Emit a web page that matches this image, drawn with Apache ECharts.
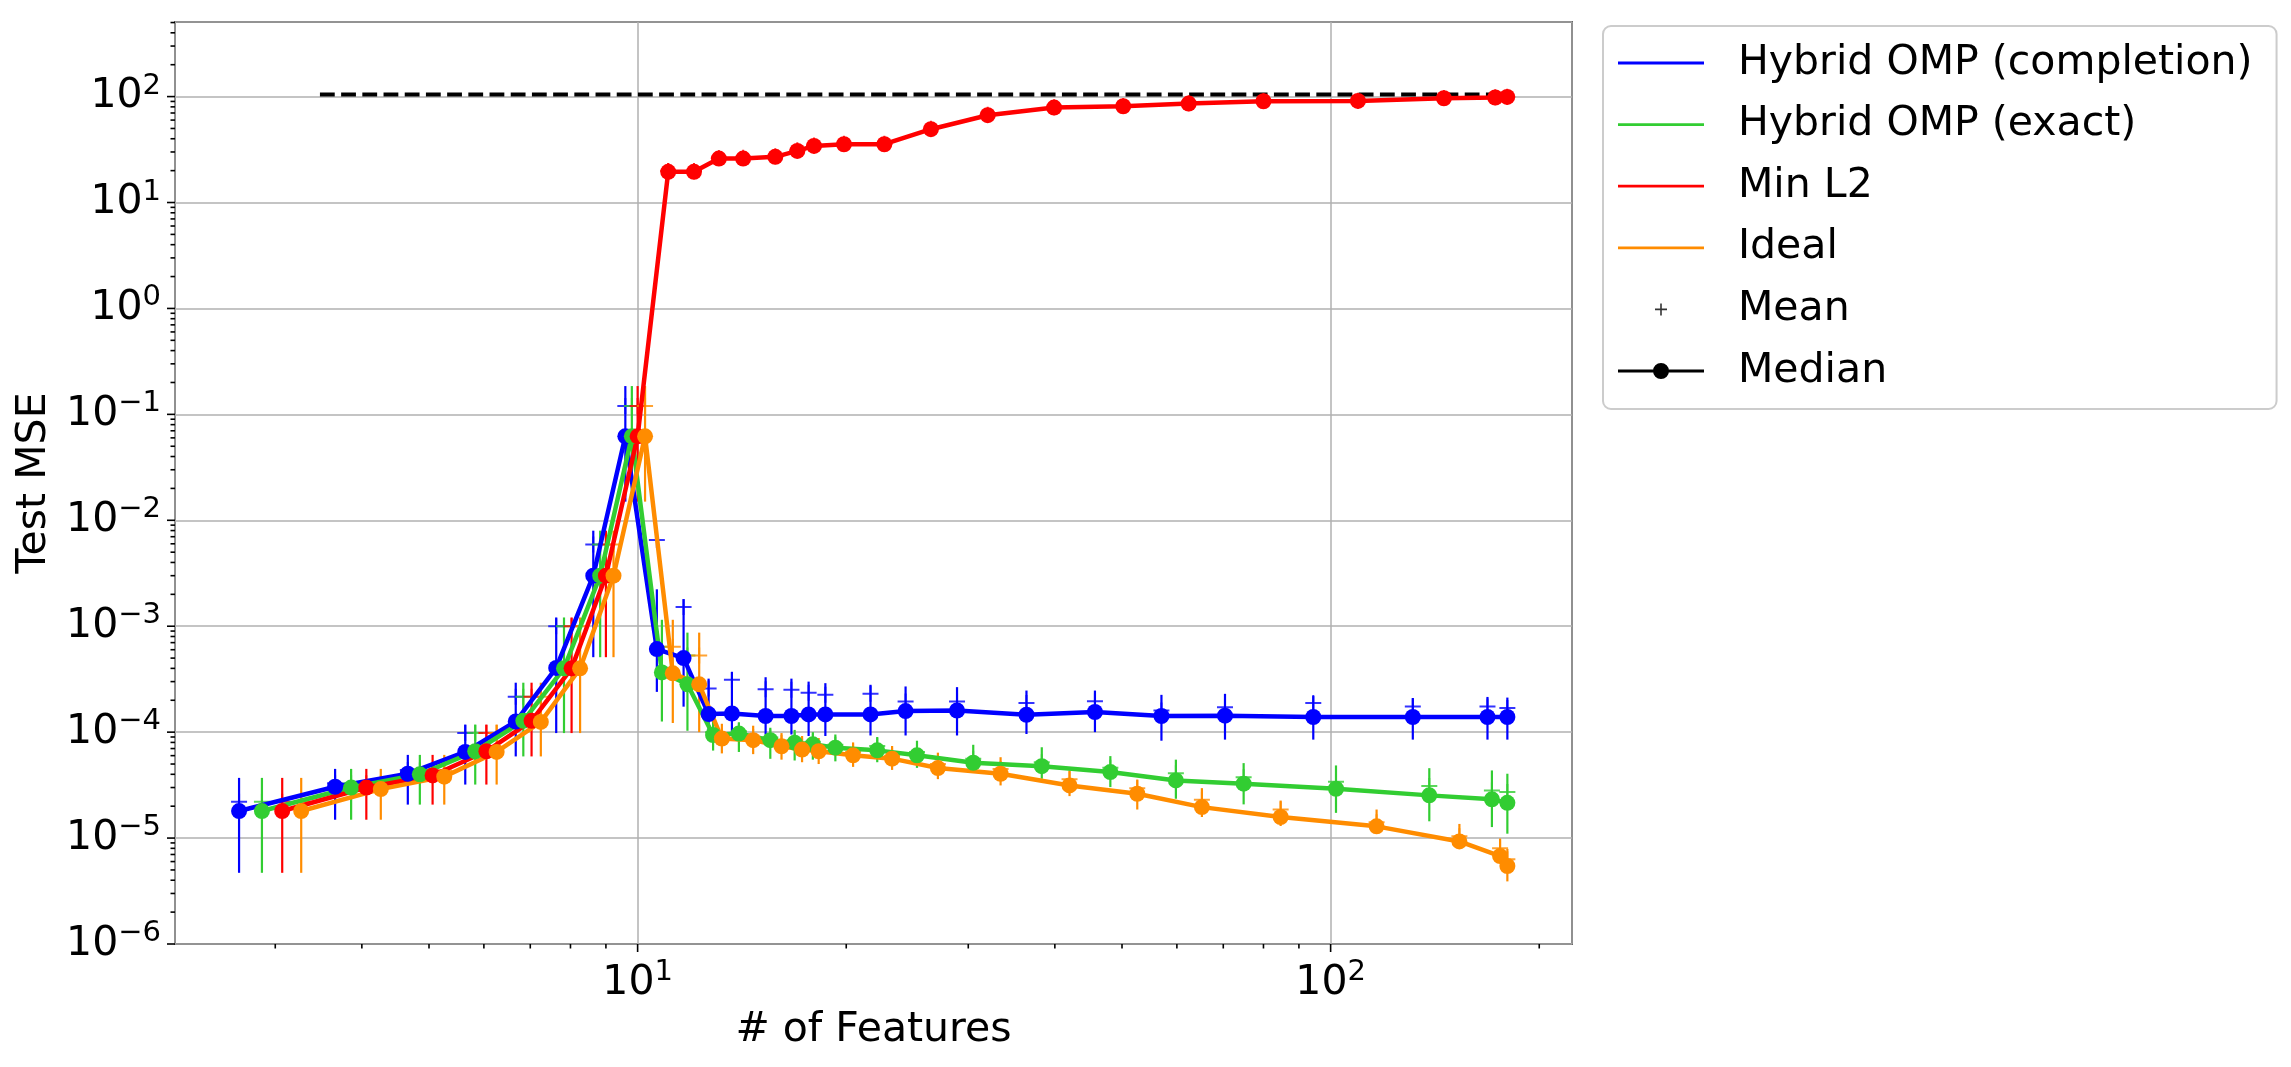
<!DOCTYPE html>
<html>
<head>
<meta charset="utf-8">
<script src="https://cdn.jsdelivr.net/npm/echarts@6/dist/echarts.min.js"></script>
<style>
html,body{margin:0;padding:0;background:#fff;}
#main{width:2291px;height:1067px;}
</style>
</head>
<body>
<div id="main"></div>
<script>
// Hybrid OMP (completion)
var blueX    = [2.66, 3.66, 4.66, 5.64, 6.67, 7.63, 8.63, 9.6, 10.66, 11.65, 12.66, 13.68, 15.3, 16.67, 17.65, 18.66, 21.68, 24.36, 28.9, 36.4, 45.7, 57.0, 70.4, 94.4, 131.4, 168.4, 179.9];
var blueMed  = [1.8e-5, 3.05e-5, 4.05e-5, 6.5e-5, 1.26e-4, 4.04e-4, 3.0e-3, 0.062, 6.08e-4, 5.0e-4, 1.48e-4, 1.5e-4, 1.42e-4, 1.42e-4, 1.47e-4, 1.47e-4, 1.47e-4, 1.58e-4, 1.6e-4, 1.46e-4, 1.55e-4, 1.42e-4, 1.43e-4, 1.39e-4, 1.39e-4, 1.39e-4, 1.39e-4];
var blueMean = [2.2e-5, 3.3e-5, 4.4e-5, 9.8e-5, 2.16e-4, 1.0e-3, 5.9e-3, 0.12, 6.5e-3, 1.52e-3, 2.58e-4, 3.13e-4, 2.54e-4, 2.52e-4, 2.36e-4, 2.26e-4, 2.3e-4, 1.95e-4, 1.95e-4, 1.88e-4, 1.96e-4, 1.6e-4, 1.72e-4, 1.88e-4, 1.75e-4, 1.75e-4, 1.69e-4];
var blueHi   = [3.7e-5, 4.5e-5, 6.1e-5, 1.18e-4, 2.93e-4, 1.21e-3, 7.98e-3, 0.185, 2.23e-3, 1.8e-3, 3.2e-4, 3.7e-4, 3.3e-4, 3.2e-4, 3.0e-4, 2.9e-4, 2.8e-4, 2.7e-4, 2.66e-4, 2.47e-4, 2.47e-4, 2.25e-4, 2.3e-4, 2.19e-4, 2.1e-4, 2.15e-4, 2.12e-4];
var blueLo   = [4.7e-6, 1.49e-5, 2.07e-5, 3.2e-5, 5.9e-5, 9.8e-5, 5.1e-4, 0.015, 2.4e-4, 1.74e-4, 1.0e-4, 1.0e-4, 9.5e-5, 9.5e-5, 9.2e-5, 9.2e-5, 9.3e-5, 9.3e-5, 9.3e-5, 9.6e-5, 1.0e-4, 8.3e-5, 8.5e-5, 8.5e-5, 8.5e-5, 8.5e-5, 8.5e-5];

// Hybrid OMP (exact)
var greenX    = [2.87, 3.86, 4.85, 5.83, 6.84, 7.83, 8.83, 9.81, 10.84, 11.8, 12.85, 14.0, 15.54, 16.85, 17.9, 19.29, 22.17, 25.3, 30.5, 38.3, 48.1, 59.8, 74.9, 101.8, 138.8, 170.9, 179.9];
var greenMed  = [1.8e-5, 3.0e-5, 4.0e-5, 6.6e-5, 1.28e-4, 4.0e-4, 3.0e-3, 0.062, 3.66e-4, 2.83e-4, 9.4e-5, 9.7e-5, 8.4e-5, 7.95e-5, 7.67e-5, 7.14e-5, 6.73e-5, 6.04e-5, 5.14e-5, 4.77e-5, 4.2e-5, 3.5e-5, 3.26e-5, 2.92e-5, 2.53e-5, 2.32e-5, 2.15e-5];
var greenMean = [2.2e-5, 3.3e-5, 4.35e-5, 9.8e-5, 2.16e-4, 1.0e-3, 5.9e-3, 0.12, 6.4e-4, 5.3e-4, 1.0e-4, 1.02e-4, 8.9e-5, 8.3e-5, 8.1e-5, 7.6e-5, 7.4e-5, 6.5e-5, 5.6e-5, 5.2e-5, 4.6e-5, 4.1e-5, 3.76e-5, 3.4e-5, 3.1e-5, 2.82e-5, 2.72e-5];
var greenHi   = [3.7e-5, 4.5e-5, 6.1e-5, 1.18e-4, 2.93e-4, 1.21e-3, 7.98e-3, 0.185, 1.15e-3, 8.7e-4, 1.35e-4, 1.24e-4, 1.1e-4, 1.05e-4, 1.0e-4, 9.5e-5, 9.0e-5, 8.3e-5, 7.6e-5, 7.2e-5, 5.94e-5, 5.5e-5, 5.1e-5, 4.85e-5, 4.57e-5, 4.35e-5, 4.05e-5];
var greenLo   = [4.7e-6, 1.49e-5, 2.07e-5, 3.2e-5, 5.9e-5, 9.8e-5, 5.1e-4, 0.015, 1.26e-4, 1.03e-4, 6.7e-5, 6.5e-5, 5.6e-5, 5.4e-5, 5.5e-5, 5.3e-5, 5.2e-5, 4.6e-5, 4.2e-5, 3.63e-5, 3.03e-5, 2.35e-5, 2.08e-5, 1.73e-5, 1.44e-5, 1.27e-5, 1.1e-5];

// Min L2
var redX    = [3.07, 4.06, 5.06, 6.05, 7.03, 8.03, 9.0, 10.0, 11.07, 12.06, 13.1, 14.2, 15.8, 17.0, 17.97, 19.85, 22.7, 26.5, 32.0, 39.9, 50.2, 62.4, 80.0, 109.5, 145.7, 172.8, 179.8];
var redMed  = [1.8e-5, 3.0e-5, 3.9e-5, 6.6e-5, 1.28e-4, 4.0e-4, 3.0e-3, 0.062, 19.5, 19.5, 26.0, 26.0, 27.0, 30.7, 34.2, 35.5, 35.5, 49.2, 66.7, 78.7, 81.1, 85.9, 90.4, 91.0, 96.4, 98.0, 99.3];
var redMean = [2.2e-5, 3.3e-5, 4.35e-5, 9.8e-5, 2.16e-4, 1.0e-3, 5.9e-3, 0.12, 19.8, 19.8, 26.3, 26.4, 27.4, 31.1, 34.6, 35.9, 35.9, 49.6, 67.2, 79.2, 81.5, 86.4, 90.8, 91.4, 96.8, 98.4, 99.6];
var redHi   = [3.7e-5, 4.5e-5, 6.1e-5, 1.18e-4, 2.93e-4, 1.21e-3, 7.98e-3, 0.185, 23.5, 23.3, 30.5, 30.4, 31.5, 35.6, 39.5, 40.6, 40.4, 55.5, 74.5, 87.0, 89.0, 93.6, 97.8, 98.2, 103.5, 104.5, 105.5];
var redLo   = [4.7e-6, 1.49e-5, 2.07e-5, 3.2e-5, 5.9e-5, 9.8e-5, 5.1e-4, 0.015, 16.5, 16.6, 22.4, 22.5, 23.3, 26.7, 29.9, 31.2, 31.3, 43.8, 59.9, 71.2, 73.8, 78.9, 83.6, 84.3, 89.9, 91.7, 93.2];

// Ideal
var orangeX    = [3.27, 4.26, 5.26, 6.26, 7.25, 8.26, 9.23, 10.25, 11.24, 12.27, 13.23, 14.68, 16.13, 17.27, 18.25, 20.46, 23.29, 27.12, 33.4, 42.0, 52.6, 65.2, 84.7, 116.5, 153.4, 175.6, 179.9];
var orangeMed  = [1.8e-5, 2.9e-5, 3.8e-5, 6.5e-5, 1.25e-4, 4.0e-4, 3.0e-3, 0.062, 3.59e-4, 2.83e-4, 8.7e-5, 8.4e-5, 7.35e-5, 6.84e-5, 6.6e-5, 6.04e-5, 5.62e-5, 4.58e-5, 4.05e-5, 3.14e-5, 2.62e-5, 1.96e-5, 1.58e-5, 1.29e-5, 9.3e-6, 6.76e-6, 5.45e-6];
var orangeMean = [2.2e-5, 3.3e-5, 4.35e-5, 9.8e-5, 2.16e-4, 1.0e-3, 5.9e-3, 0.12, 6.4e-4, 5.3e-4, 9.2e-5, 9.0e-5, 7.9e-5, 7.3e-5, 7.0e-5, 6.5e-5, 6.0e-5, 5.0e-5, 4.5e-5, 3.6e-5, 2.96e-5, 2.3e-5, 1.86e-5, 1.41e-5, 1.04e-5, 8.0e-6, 6.3e-6];
var orangeHi   = [3.7e-5, 4.5e-5, 6.1e-5, 1.18e-4, 2.93e-4, 1.21e-3, 7.98e-3, 0.185, 1.15e-3, 8.7e-4, 1.2e-4, 1.15e-4, 9.8e-5, 9.2e-5, 8.8e-5, 8.0e-5, 7.4e-5, 6.4e-5, 5.8e-5, 4.35e-5, 3.57e-5, 2.96e-5, 2.26e-5, 1.86e-5, 1.36e-5, 9.9e-6, 7.9e-6];
var orangeLo   = [4.7e-6, 1.49e-5, 2.07e-5, 3.2e-5, 5.9e-5, 9.8e-5, 5.1e-4, 0.015, 1.22e-4, 1.0e-4, 6.3e-5, 6.2e-5, 5.5e-5, 5.2e-5, 5.0e-5, 4.7e-5, 4.4e-5, 3.6e-5, 3.14e-5, 2.49e-5, 1.86e-5, 1.58e-5, 1.3e-5, 1.14e-5, 7.9e-6, 5.9e-6, 3.9e-6];

// black dashed reference level
var refX = [3.48, 178];
var refY = [104.4, 104.4];

// axes
var xMin = 2.15, xMax = 223;
var yMin = 1e-6, yMax = 506;
var xMinorTicks = [3, 4, 5, 6, 7, 8, 9, 20, 30, 40, 50, 60, 70, 80, 90, 200];
var xMajorTicks = [10, 100];
var yMajorTicks = [1e-6, 1e-5, 1e-4, 1e-3, 1e-2, 1e-1, 1, 10, 100];
var yMinorTicks = [];
for (var e = -6; e <= 2; e++) {
	for (var k = 2; k <= 9; k++) {
		var v = k * Math.pow(10, e);
		if (v < yMax) yMinorTicks.push(v);
	}
}

var FONT = 'DejaVu Sans';
var methods = [
	{name: 'Hybrid OMP (completion)', color: '#0000ff', x: blueX, med: blueMed, mean: blueMean, hi: blueHi, lo: blueLo},
	{name: 'Hybrid OMP (exact)', color: '#32cd32', x: greenX, med: greenMed, mean: greenMean, hi: greenHi, lo: greenLo},
	{name: 'Min L2', color: '#ff0000', x: redX, med: redMed, mean: redMean, hi: redHi, lo: redLo},
	{name: 'Ideal', color: '#ff8c00', x: orangeX, med: orangeMed, mean: orangeMean, hi: orangeHi, lo: orangeLo}
];

var plusPath = 'path://M7,0 h2 v7 h7 v2 h-7 v7 h-2 v-7 h-7 v-2 h7 z';
// legend icons are 115 wide so text starts after a gap, like matplotlib
var pad = ' M0,0 L0.01,0 L0,0.01 Z M115,16 L114.99,16 L115,15.99 Z';
var lineIcon = 'path://M0,6.6 h86 v2.8 h-86 Z' + pad;
var meanIcon = 'path://M37,7.2 h12 v1.6 h-12 Z M42.2,2 h1.6 v12 h-1.6 Z' + pad;
var medianIcon = 'path://M0,6.6 h86 v2.8 h-86 Z M51,8 A8,8 0 1,1 35,8 A8,8 0 1,1 51,8 Z' + pad;

function expLabel(v) {
	var ex = Math.round(Math.log(v) / Math.LN10);
	if (Math.abs(Math.pow(10, ex) - v) > Math.pow(10, ex) * 1e-6) return '';
	var s = ex < 0 ? '\u2212' + (-ex) : '' + ex;
	return '{b|10}{s|' + s + '}';
}

function tickSeries(vals, isX, len) {
	var d = [];
	for (var i = 0; i < vals.length; i++) d.push(isX ? [vals[i], yMin] : [xMin, vals[i]]);
	return {
		type: 'custom', silent: true, z: 5,
		data: d,
		renderItem: function(params, api) {
			var p = api.coord([api.value(0), api.value(1)]);
			var shape = isX ? {x1: p[0], y1: p[1], x2: p[0], y2: p[1] + len}
			                : {x1: p[0], y1: p[1], x2: p[0] - len, y2: p[1]};
			return {type: 'line', shape: shape, style: {stroke: '#000', lineWidth: 1.6}};
		}
	};
}

var series = [];
series.push({
	name: 'ref', type: 'line', data: refX.map(function(x, i){ return [x, refY[i]]; }),
	symbol: 'none', lineStyle: {color: '#000', width: 4, type: [14.8, 6.4]}, z: 1
});
methods.forEach(function(m) {
	var bars = [], means = [], meds = [];
	for (var i = 0; i < m.x.length; i++) {
		bars.push([m.x[i], m.lo[i], m.hi[i]]);
		means.push([m.x[i], m.mean[i]]);
		meds.push([m.x[i], m.med[i]]);
	}
	series.push({
		name: m.name + ' bars', type: 'custom', silent: true, color: m.color,
		encode: {x: 0, y: [1, 2]},
		data: bars,
		renderItem: function(params, api) {
			var a = api.coord([api.value(0), api.value(1)]);
			var b = api.coord([api.value(0), api.value(2)]);
			return {type: 'line', shape: {x1: a[0], y1: a[1], x2: b[0], y2: b[1]},
				style: {stroke: m.color, lineWidth: 2.2}};
		}
	});
	series.push({
		name: m.name + ' mean', type: 'scatter', silent: true, data: means,
		symbol: plusPath, symbolSize: 16, itemStyle: {color: m.color}
	});
	series.push({
		name: m.name, type: 'line', data: meds, color: m.color,
		symbol: 'circle', symbolSize: 16, showAllSymbol: true,
		lineStyle: {color: m.color, width: 4.5},
		itemStyle: {color: m.color}
	});
});
series.push({name: 'Mean', type: 'scatter', data: [], color: '#000', itemStyle: {color: '#000'}});
series.push({name: 'Median', type: 'line', data: [], color: '#000', itemStyle: {color: '#000'}});
series.push(tickSeries(xMinorTicks, true, 4.5));
series.push(tickSeries(xMajorTicks, true, 8));
series.push(tickSeries(yMinorTicks, false, 4.5));
series.push(tickSeries(yMajorTicks, false, 8));

var richLabel = {
	b: {fontFamily: FONT, fontSize: 41, color: '#000', lineHeight: 50},
	s: {fontFamily: FONT, fontSize: 29, color: '#000', verticalAlign: 'top', lineHeight: 30}
};

var option = {
	animation: false,
	backgroundColor: '#fff',
	grid: {left: 175, right: 719, top: 22, bottom: 123, show: true,
		borderColor: '#000', borderWidth: 1.6, backgroundColor: 'transparent'},
	xAxis: {
		type: 'log', logBase: 10, min: xMin, max: xMax,
		name: '# of Features', nameLocation: 'middle', nameGap: 66,
		nameTextStyle: {fontFamily: FONT, fontSize: 41, color: '#000'},
		axisLine: {show: false}, axisTick: {show: false},
		axisLabel: {showMinLabel: false, showMaxLabel: false, margin: 14,
			formatter: expLabel, rich: richLabel},
		splitLine: {show: true, lineStyle: {color: '#b0b0b0', width: 1.5}},
		minorTick: {show: false}
	},
	yAxis: {
		type: 'log', logBase: 10, min: yMin, max: yMax,
		name: 'Test MSE', nameLocation: 'middle', nameGap: 112,
		nameTextStyle: {fontFamily: FONT, fontSize: 41, color: '#000'},
		axisLine: {show: false}, axisTick: {show: false},
		axisLabel: {showMinLabel: true, showMaxLabel: false, margin: 14,
			formatter: expLabel, rich: richLabel},
		splitLine: {show: true, lineStyle: {color: '#b0b0b0', width: 1.5}}
	},
	legend: {
		orient: 'vertical', left: 1603, top: 26,
		padding: [14, 24, 15, 15], itemGap: 15.6, itemWidth: 115, itemHeight: 16,
		backgroundColor: 'rgba(255,255,255,0.8)', borderColor: '#cccccc', borderWidth: 2, borderRadius: 8,
		selectedMode: false,
		itemStyle: {borderWidth: 0},
		textStyle: {fontFamily: FONT, fontSize: 41, color: '#000', lineHeight: 46},
		data: [
			{name: 'Hybrid OMP (completion)', icon: lineIcon},
			{name: 'Hybrid OMP (exact)', icon: lineIcon},
			{name: 'Min L2', icon: lineIcon},
			{name: 'Ideal', icon: lineIcon},
			{name: 'Mean', icon: meanIcon},
			{name: 'Median', icon: medianIcon}
		]
	},
	series: series
};

var myChart = echarts.init(document.getElementById('main'));
myChart.setOption(option);
</script>
</body>
</html>
